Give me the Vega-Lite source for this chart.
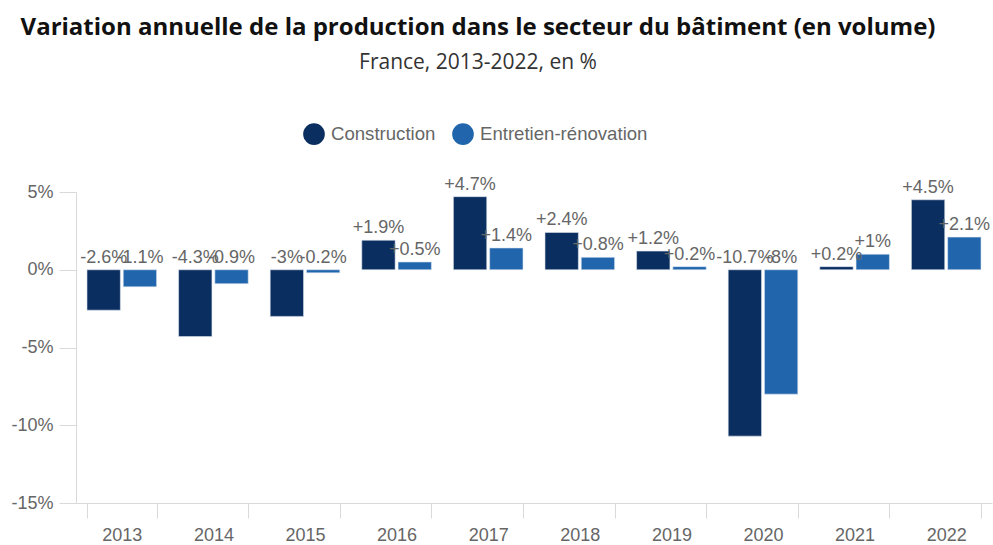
{
  "$schema": "https://vega.github.io/schema/vega-lite/v6.json",
  "width": 916,
  "height": 311,
  "autosize": {"type": "none"},
  "padding": {"left": 76, "top": 192, "right": 1, "bottom": 42},
  "background": "white",
  "title": {
    "text": "Variation annuelle de la production dans le secteur du bâtiment (en volume)",
    "subtitle": "France, 2013-2022, en %",
    "anchor": "middle",
    "dx": -56,
    "font": "Open Sans",
    "fontSize": 24,
    "fontWeight": "bold",
    "color": "#111111",
    "subtitleFont": "Open Sans",
    "subtitleFontSize": 21,
    "subtitleColor": "#333333",
    "subtitlePadding": 12,
    "offset": 50
  },
  "config": {"view": {"stroke": null}},
  "data": {
    "values": [
      {"year": "2013", "serie": "Construction", "value": -2.6},
      {"year": "2013", "serie": "Entretien-rénovation", "value": -1.1},
      {"year": "2014", "serie": "Construction", "value": -4.3},
      {"year": "2014", "serie": "Entretien-rénovation", "value": -0.9},
      {"year": "2015", "serie": "Construction", "value": -3},
      {"year": "2015", "serie": "Entretien-rénovation", "value": -0.2},
      {"year": "2016", "serie": "Construction", "value": 1.9},
      {"year": "2016", "serie": "Entretien-rénovation", "value": 0.5},
      {"year": "2017", "serie": "Construction", "value": 4.7},
      {"year": "2017", "serie": "Entretien-rénovation", "value": 1.4},
      {"year": "2018", "serie": "Construction", "value": 2.4},
      {"year": "2018", "serie": "Entretien-rénovation", "value": 0.8},
      {"year": "2019", "serie": "Construction", "value": 1.2},
      {"year": "2019", "serie": "Entretien-rénovation", "value": 0.2},
      {"year": "2020", "serie": "Construction", "value": -10.7},
      {"year": "2020", "serie": "Entretien-rénovation", "value": -8},
      {"year": "2021", "serie": "Construction", "value": 0.2},
      {"year": "2021", "serie": "Entretien-rénovation", "value": 1},
      {"year": "2022", "serie": "Construction", "value": 4.5},
      {"year": "2022", "serie": "Entretien-rénovation", "value": 2.1}
    ]
  },
  "encoding": {
    "x": {
      "field": "year",
      "type": "nominal",
      "scale": {"paddingInner": 0.24, "paddingOuter": 0.12},
      "axis": {
        "title": null,
        "labelAngle": 0,
        "tickBand": "extent",
        "tickSize": 15,
        "tickColor": "#d9d9d9",
        "domainColor": "#d9d9d9",
        "labelFont": "Liberation Sans",
        "labelFontSize": 18,
        "labelColor": "#666666",
        "labelPadding": 8
      }
    },
    "xOffset": {
      "field": "serie",
      "type": "nominal",
      "scale": {"domain": ["Construction", "Entretien-rénovation"], "paddingInner": 0.08}
    }
  },
  "layer": [
    {
      "mark": {"type": "bar", "stroke": "#dbe4f0", "strokeWidth": 0.6},
      "encoding": {
        "y": {
          "field": "value",
          "type": "quantitative",
          "scale": {"domain": [-15, 5], "nice": false},
          "axis": {
            "title": null,
            "values": [-15, -10, -5, 0, 5],
            "labelExpr": "datum.value + '%'",
            "grid": false,
            "tickSize": 17,
            "tickColor": "#d9d9d9",
            "domainColor": "#d9d9d9",
            "labelFont": "Liberation Sans",
            "labelFontSize": 18,
            "labelColor": "#666666",
            "labelPadding": 6
          }
        },
        "color": {
          "field": "serie",
          "type": "nominal",
          "scale": {"domain": ["Construction", "Entretien-rénovation"], "range": ["#0a2e5f", "#2166ac"]},
          "legend": {
            "orient": "none",
            "legendX": 227,
            "legendY": -69,
            "direction": "horizontal",
            "title": null,
            "symbolType": "circle",
            "symbolSize": 470,
            "symbolStrokeWidth": 0,
            "symbolOpacity": 1,
            "labelFont": "Liberation Sans",
            "labelFontSize": 18.6,
            "labelColor": "#666666",
            "labelOffset": 6,
            "labelLimit": 400,
            "columnPadding": 16
          }
        }
      }
    },
    {
      "transform": [
        {"calculate": "(datum.value > 0 ? '+' : '') + datum.value + '%'", "as": "label"},
        {"calculate": "max(datum.value, 0)", "as": "labelPos"}
      ],
      "mark": {"type": "text", "font": "Liberation Sans", "fontSize": 18, "color": "#666666", "baseline": "alphabetic", "dy": -7},
      "encoding": {
        "y": {"field": "labelPos", "type": "quantitative"},
        "text": {"field": "label"}
      }
    }
  ]
}
